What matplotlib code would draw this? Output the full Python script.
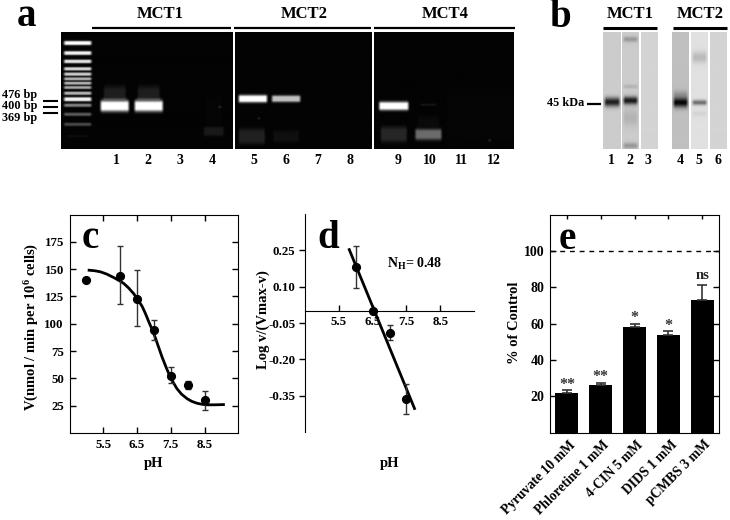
import matplotlib
matplotlib.use('Agg')
import matplotlib.pyplot as plt
from matplotlib.transforms import ScaledTranslation
import numpy as np

W, H = 730, 520
plt.rcParams['font.family'] = ['Liberation Serif', 'DejaVu Serif']
plt.rcParams['font.weight'] = 'bold'
plt.rcParams['mathtext.fontset'] = 'custom'
plt.rcParams['mathtext.rm'] = 'Liberation Serif:bold'
plt.rcParams['mathtext.default'] = 'rm'

# panel c
c_ph = [5.0, 6.0, 6.5, 7.0, 7.5, 8.0, 8.5]
c_v = [140, 144, 123, 94, 52, 44, 30]
c_low = [140, 118, 98, 85, 46, 40, 21]
c_high = [140, 171, 149, 103, 60, 48, 38]
curve_ph = [5.08, 5.25, 5.42, 5.6, 5.81, 6.0, 6.11, 6.25, 6.4, 6.52, 6.65, 6.75, 6.85, 6.95, 7.04, 7.14, 7.24, 7.34, 7.44, 7.56, 7.68, 7.82, 7.98, 8.12, 8.27, 8.42, 8.57, 8.8, 9.06]
curve_v = [149, 148.5, 147.5, 145.5, 142.3, 139, 136.8, 132.8, 127.6, 122.2, 116, 109.3, 101.7, 94.6, 87.4, 78.5, 69.7, 61.8, 54.4, 47, 40.7, 35.5, 31.5, 29, 27.3, 26.3, 25.8, 25.8, 26]
c_xticks = [5.5, 6.5, 7.5, 8.5]
c_yticks = [25, 50, 75, 100, 125, 150, 175]

# panel d
d_ph = [6.0, 6.5, 7.0, 7.5]
d_log = [0.18, 0.0, -0.09, -0.365]
d_low = [0.095, 0.0, -0.12, -0.425]
d_high = [0.267, 0.0, -0.06, -0.30]
d_line_ph = [5.81, 7.74]
d_line_log = [0.253, -0.403]
d_yticks = [0.25, 0.10, -0.05, -0.20, -0.35]
d_xticks = [5.5, 6.5, 7.5, 8.5]

# panel e
e_names = ['Pyruvate 10 mM', 'Phloretine 1 mM', '4-CIN 5 mM', 'DIDS 1 mM', 'pCMBS 3 mM']
e_vals = [22, 26, 58, 54, 73]
e_errs = [1.5, 1.5, 2, 2, 8]
e_marks = ['**', '**', '*', '*', 'ns']
e_yticks = [20, 40, 60, 80, 100]

# gel a: lane centre x, y, half width, half height, brightness (pixels)
gel_bands = [
    (77, 44, 13.5, 1.3, 1.0), (77, 54, 13.5, 1.2, 0.95), (77, 62.3, 13.5, 1.1, 0.9),
    (77, 69.7, 13.5, 1.0, 0.85), (77, 75, 13.5, 1.0, 0.8), (77, 79.7, 13.5, 0.9, 0.7),
    (77, 84, 13.5, 0.9, 0.7), (77, 88.3, 13.5, 0.9, 0.65), (77, 94, 13.5, 1.0, 0.7),
    (77, 100, 13.5, 1.3, 0.95), (77, 106, 13.5, 1.0, 0.5), (77, 115, 13.5, 1.0, 0.35),
    (77, 125, 13.5, 1.0, 0.28), (77, 136.7, 11, 0.8, 0.05),
    (114, 106.7, 14, 4.0, 1.0), (148, 106.7, 14, 4.0, 1.0),
    (114, 102, 12, 2.5, 0.35), (148, 102, 12, 2.5, 0.35),
    (114, 97, 11, 8, 0.12), (148, 97, 11, 8, 0.12),
    (213, 132, 10, 3.5, 0.1), (213, 112, 9, 18, 0.02), (219, 107.7, 1, 0.8, 0.2),
    (252, 99.5, 14, 2.6, 1.0), (285, 99.5, 14, 2.3, 0.75),
    (251, 137, 13, 6, 0.13), (285, 137, 13, 5, 0.06), (258, 119, 0.6, 0.6, 0.25),
    (393.5, 106.7, 14.5, 3.0, 1.0), (393.5, 135, 13, 6, 0.15), (428, 135, 13, 4, 0.42),
    (428, 126, 11, 8, 0.04), (428, 105.5, 8, 0.7, 0.08), (479, 118, 34, 30, 0.02),
    (489, 141, 1.2, 0.8, 0.18),
]

# blot b: strip, y (pixels), half height, darkness
blot_strips = [(602.7, 620), (621.7, 638.3), (641, 657.7), (672.3, 689), (691, 707.7), (709.7, 726.3)]
blot_grey = [0.80, 0.80, 0.83, 0.75, 0.88, 0.83]
blot_bands = [
    (0, 102.5, 3.2, 0.68), (1, 101, 2.8, 0.7), (1, 40, 2.0, 0.2), (1, 87, 1.4, 0.1),
    (1, 118, 6, 0.1), (1, 146, 2.2, 0.2), (3, 103, 3.4, 0.72), (3, 95, 3, 0.15),
    (4, 103, 1.8, 0.45), (4, 58, 4, 0.15), (4, 114, 2, 0.05),
]


def to_ax(x0, y0, x1, y1):
    return fig.add_axes([x0 / W, 1 - y1 / H, (x1 - x0) / W, (y1 - y0) / H])


fig = plt.figure(figsize=(W / 100, H / 100), dpi=100, facecolor='white')
bg = fig.add_axes([0, 0, 1, 1])
bg.set_xlim(0, W)
bg.set_ylim(H, 0)
bg.axis('off')
bg.set_zorder(10)


def gel(x0, y0, x1, y1):
    xx, yy = np.meshgrid(np.arange(x0, x1, 0.5), np.arange(y0, y1, 0.5))
    img = np.zeros_like(xx) + 0.012
    for cx, cy, hw, hh, b in gel_bands:
        gx = np.clip((hw + 1.5 - np.abs(xx - cx)) / 3.0, 0, 1)
        gy = np.exp(-np.maximum(np.abs(yy - cy) - hh * 0.6, 0) ** 2 / (2 * (0.5 * hh + 0.3) ** 2))
        img = np.maximum(img, b * gx * gy)
    ax = to_ax(x0, y0, x1, y1)
    ax.imshow(img, cmap='gray', vmin=0, vmax=1, aspect='auto', interpolation='bilinear')
    ax.axis('off')


gel(60.5, 32.3, 232.5, 149.5)
gel(234.5, 32.3, 370.5, 149.5)
gel(374, 32.3, 513.5, 149.5)

for x0, x1 in [(91.5, 231), (234, 371), (374, 514.5)]:
    bg.plot([x0, x1], [28, 28], color='black', lw=1.6, solid_capstyle='butt')
for txt, x in [('MCT1', 160), ('MCT2', 304), ('MCT4', 445)]:
    bg.text(x, 14, txt, ha='center', va='center', fontsize=12)
for y in [101, 106.7, 112.7]:
    bg.plot([43, 58], [y, y], color='black', lw=1.5, solid_capstyle='butt')
for txt, y in [('476 bp', 95), ('400 bp', 106.5), ('369 bp', 118)]:
    bg.text(20, y, txt, ha='center', va='center', fontsize=8.8)
gel_lanes = ['1', '2', '3', '4', '5', '6', '7', '8', '9', '10', '11', '12']
lane_x = [116, 148, 180, 212, 254, 286, 318, 350, 398, 430, 461, 494]
for txt, x in zip(gel_lanes, lane_x):
    bg.text(x, 161, txt, ha='center', va='center', fontsize=10)

# blot strips
for (x0, x1), g, i in zip(blot_strips, blot_grey, range(6)):
    yy = np.arange(32, 149.5, 0.5)
    xx = np.arange(x0, x1, 0.5)
    img = np.full((len(yy), len(xx)), g)
    edge = np.clip((np.minimum(xx - x0, x1 - xx)) / 3.0, 0.1, 1)
    for s, cy, hh, d in blot_bands:
        if s == i:
            img = img - d * np.exp(-(yy[:, None] - cy) ** 2 / (2 * hh ** 2)) * edge[None, :]
    ax = to_ax(x0, 32, x1, 149.5)
    ax.imshow(np.clip(img, 0, 1), cmap='gray', vmin=0, vmax=1, aspect='auto')
    ax.axis('off')

bg.plot([603, 657], [27.7, 27.7], color='black', lw=2.2, solid_capstyle='butt')
bg.plot([673, 727], [27.7, 27.7], color='black', lw=2.2, solid_capstyle='butt')
bg.text(630, 14, 'MCT1', ha='center', va='center', fontsize=12)
bg.text(700, 14, 'MCT2', ha='center', va='center', fontsize=12)
bg.plot([586.5, 601], [103.5, 103.5], color='black', lw=1.6, solid_capstyle='butt')
bg.text(566, 103, '45 kDa', ha='center', va='center', fontsize=8.8)
blot_lanes = ['1', '2', '3', '4', '5', '6']
blot_x = [611, 630, 648, 680, 699, 718]
for txt, x in zip(blot_lanes, blot_x):
    bg.text(x, 161, txt, ha='center', va='center', fontsize=10)

# panel letters
for txt, x, y in [('a', 27, 26.5), ('b', 560, 27), ('c', 90, 248), ('d', 328, 248), ('e', 567.5, 249)]:
    bg.text(x, y, txt, ha='center', va='baseline', fontsize=28)

# c
ax = to_ax(69.5, 214.5, 238.3, 433)
ax.plot(curve_ph, curve_v, color='black', lw=2, zorder=2)
yerr = [np.array(c_v) - np.array(c_low), np.array(c_high) - np.array(c_v)]
ax.errorbar(c_ph, c_v, yerr=yerr, fmt='o', color='black', ms=5.6, ecolor='#333333', elinewidth=1, capsize=2.2, capthick=1)
ax.set_xlim(4.5, 9.5)
ax.set_ylim(0, 200)
ax.set_xticks(c_xticks, [str(v) for v in c_xticks])
ax.set_yticks(c_yticks)
ax.tick_params(direction='in', top=True, right=True, length=4.5, width=1, labelsize=9.3, pad=4)
bg.text(154, 464, 'pH', ha='center', va='center', fontsize=10.5)
bg.text(32, 327, 'V(nmol / min per 10$^6$ cells)', rotation=90, ha='center', va='center', fontsize=10.5)

# d
ax = to_ax(305, 214, 474, 432)
ax.plot(d_line_ph, d_line_log, color='black', lw=2)
yerr = [np.array(d_log) - np.array(d_low), np.array(d_high) - np.array(d_log)]
ax.errorbar(d_ph, d_log, yerr=yerr, fmt='o', color='black', ms=5.6, ecolor='#333333', elinewidth=1, capsize=2.2, capthick=1)
ax.set_xlim(4.5, 9.5)
ax.set_ylim(-0.5, 0.4)
ax.patch.set_visible(False)
for s in ['top', 'right']:
    ax.spines[s].set_visible(False)
ax.spines['bottom'].set_position(('data', 0))
ax.set_xticks(d_xticks, [str(v) for v in d_xticks])
ax.set_yticks(d_yticks, ['%.2f' % v for v in d_yticks])
ax.tick_params(axis='x', direction='in', length=4, width=1, labelsize=9.3, pad=4)
ax.tick_params(axis='y', direction='out', length=4, width=1, labelsize=9.3, pad=3)
bg.text(263, 320, 'Log v/(Vmax-v)', rotation=90, ha='center', va='center', fontsize=10.5)
bg.text(390, 463, 'pH', ha='center', va='center', fontsize=10.5)
ax.text(7.75, 0.193, 'N$_{H}$= 0.48', ha='center', va='center', fontsize=10)

# e
ax = to_ax(550, 214.5, 719, 432.7)
pos = np.arange(1, 6)
ax.bar(pos, e_vals, width=0.68, color='black')
ax.errorbar(pos, e_vals, yerr=[np.zeros(5), e_errs], fmt='none', ecolor='#333333', elinewidth=1.2, capsize=3.4, capthick=1.2)
ax.axhline(100, color='black', lw=1, ls=(0, (3.5, 3.5)))
ax.set_xlim(0.5, 5.5)
ax.set_ylim(0, 120)
ax.set_xticks(pos, e_names, rotation=45, ha='right', rotation_mode='anchor', fontsize=9.8)
ax.set_yticks(e_yticks)
ax.tick_params(axis='y', direction='in', right=True, length=4.5, width=1, labelsize=10, pad=4)
ax.tick_params(axis='x', direction='in', top=True, bottom=False, length=3, width=1, pad=4)
shift = ScaledTranslation(0.02, 0, fig.dpi_scale_trans)
for lab in ax.get_xticklabels():
    lab.set_transform(lab.get_transform() + shift)
bg.text(514, 323, '% of Control', rotation=90, ha='center', va='center', fontsize=10.5)
for x, v, er, m in zip(pos, e_vals, e_errs, e_marks):
    if m == 'ns':
        ax.text(x, v + er + 2, m, ha='center', va='bottom', fontsize=10.5, color='#222222')
    else:
        ax.text(x, v + er - 1.5, m, ha='center', va='bottom', fontsize=11.5, color='#333333')

fig.savefig('out.png', dpi=100)
